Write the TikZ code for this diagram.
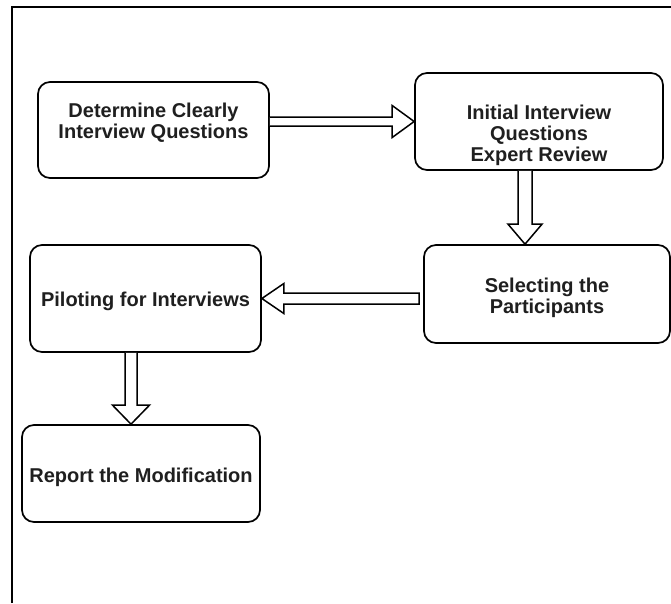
\documentclass[tikz,border=0pt]{standalone}
\usepackage{fontspec}
\setmainfont{Liberation Sans}
\usetikzlibrary{calc}
\tikzset{
  stepbox/.style={draw=black, line width=1.7pt, rounded corners=12pt, fill=white, inner sep=0pt},
  boxtext/.style={align=center, font=\bfseries\fontsize{20}{21.2}\selectfont, text=black!88,
    inner sep=0pt, anchor=north},
  fat/.style={draw=black, line width=1.5pt, fill=white, line join=miter},
}
\begin{document}
\begin{tikzpicture}[x=1pt,y=-1pt]
\useasboundingbox (0,0) rectangle (671,603);
\draw[line width=1.8pt] (12,603) -- (12,7) -- (671,7);

\node[stepbox, minimum width=231pt, minimum height=96pt] (b1) at (153.5,130) {};
\node[stepbox, minimum width=248pt, minimum height=97pt] (b2) at (539,121.5) {};
\node[stepbox, minimum width=246pt, minimum height=98pt] (b3) at (547,294) {};
\node[stepbox, minimum width=231pt, minimum height=107pt] (b4) at (145.5,298.5) {};
\node[stepbox, minimum width=238pt, minimum height=97pt] (b5) at (141,473.5) {};

\node[boxtext] (t1) at (b1.center |- 0,102.5) {Determine Clearly\\Interview Questions};
\node[boxtext] (t2) at (b2.center |- 0,104.5) {Initial Interview\\Questions\\Expert Review};
\node[boxtext] (t3) at (b3.center |- 0,277.5) {Selecting the\\Participants};
\node[boxtext] (t4) at (b4.center |- 0,291.5) {Piloting for Interviews};
\node[boxtext] (t5) at (b5.center |- 0,467.5) {Report the Modification};

% arrow 1: b1 -> b2
\coordinate (a1s) at (b1.east |- b2.west);
\coordinate (a1e) at (b2.west);
\draw[fat] ($(a1s)+(0,-4.5)$) -- ($(a1e)+(-22,-4.5)$) -- ($(a1e)+(-22,-16)$) -- (a1e)
  -- ($(a1e)+(-22,16)$) -- ($(a1e)+(-22,4.5)$) -- ($(a1s)+(0,4.5)$);

% arrow 2: b2 -> b3
\coordinate (a2s) at ($(b2.south)+(-14,0)$);
\coordinate (a2e) at (a2s |- b3.north);
\draw[fat] ($(a2s)+(-7,0)$) -- ($(a2e)+(-7,-20)$) -- ($(a2e)+(-17,-20)$) -- (a2e)
  -- ($(a2e)+(17,-20)$) -- ($(a2e)+(7,-20)$) -- ($(a2s)+(7,0)$);

% arrow 3: b3 -> b4
\coordinate (a3s) at ($(b3.west |- b4.east)+(-4,0)$);
\coordinate (a3e) at (b4.east);
\draw[fat] ($(a3s)+(0,-5.5)$) -- ($(a3e)+(22,-5.5)$) -- ($(a3e)+(22,-15)$) -- (a3e)
  -- ($(a3e)+(22,15)$) -- ($(a3e)+(22,5.5)$) -- ($(a3s)+(0,5.5)$) -- cycle;

% arrow 4: b4 -> b5
\coordinate (a4s) at ($(b4.south)+(-14.5,0)$);
\coordinate (a4e) at (a4s |- b5.north);
\draw[fat] ($(a4s)+(-6,0)$) -- ($(a4e)+(-6,-19)$) -- ($(a4e)+(-18.5,-19)$) -- (a4e)
  -- ($(a4e)+(18.5,-19)$) -- ($(a4e)+(6,-19)$) -- ($(a4s)+(6,0)$);
\end{tikzpicture}
\end{document}
